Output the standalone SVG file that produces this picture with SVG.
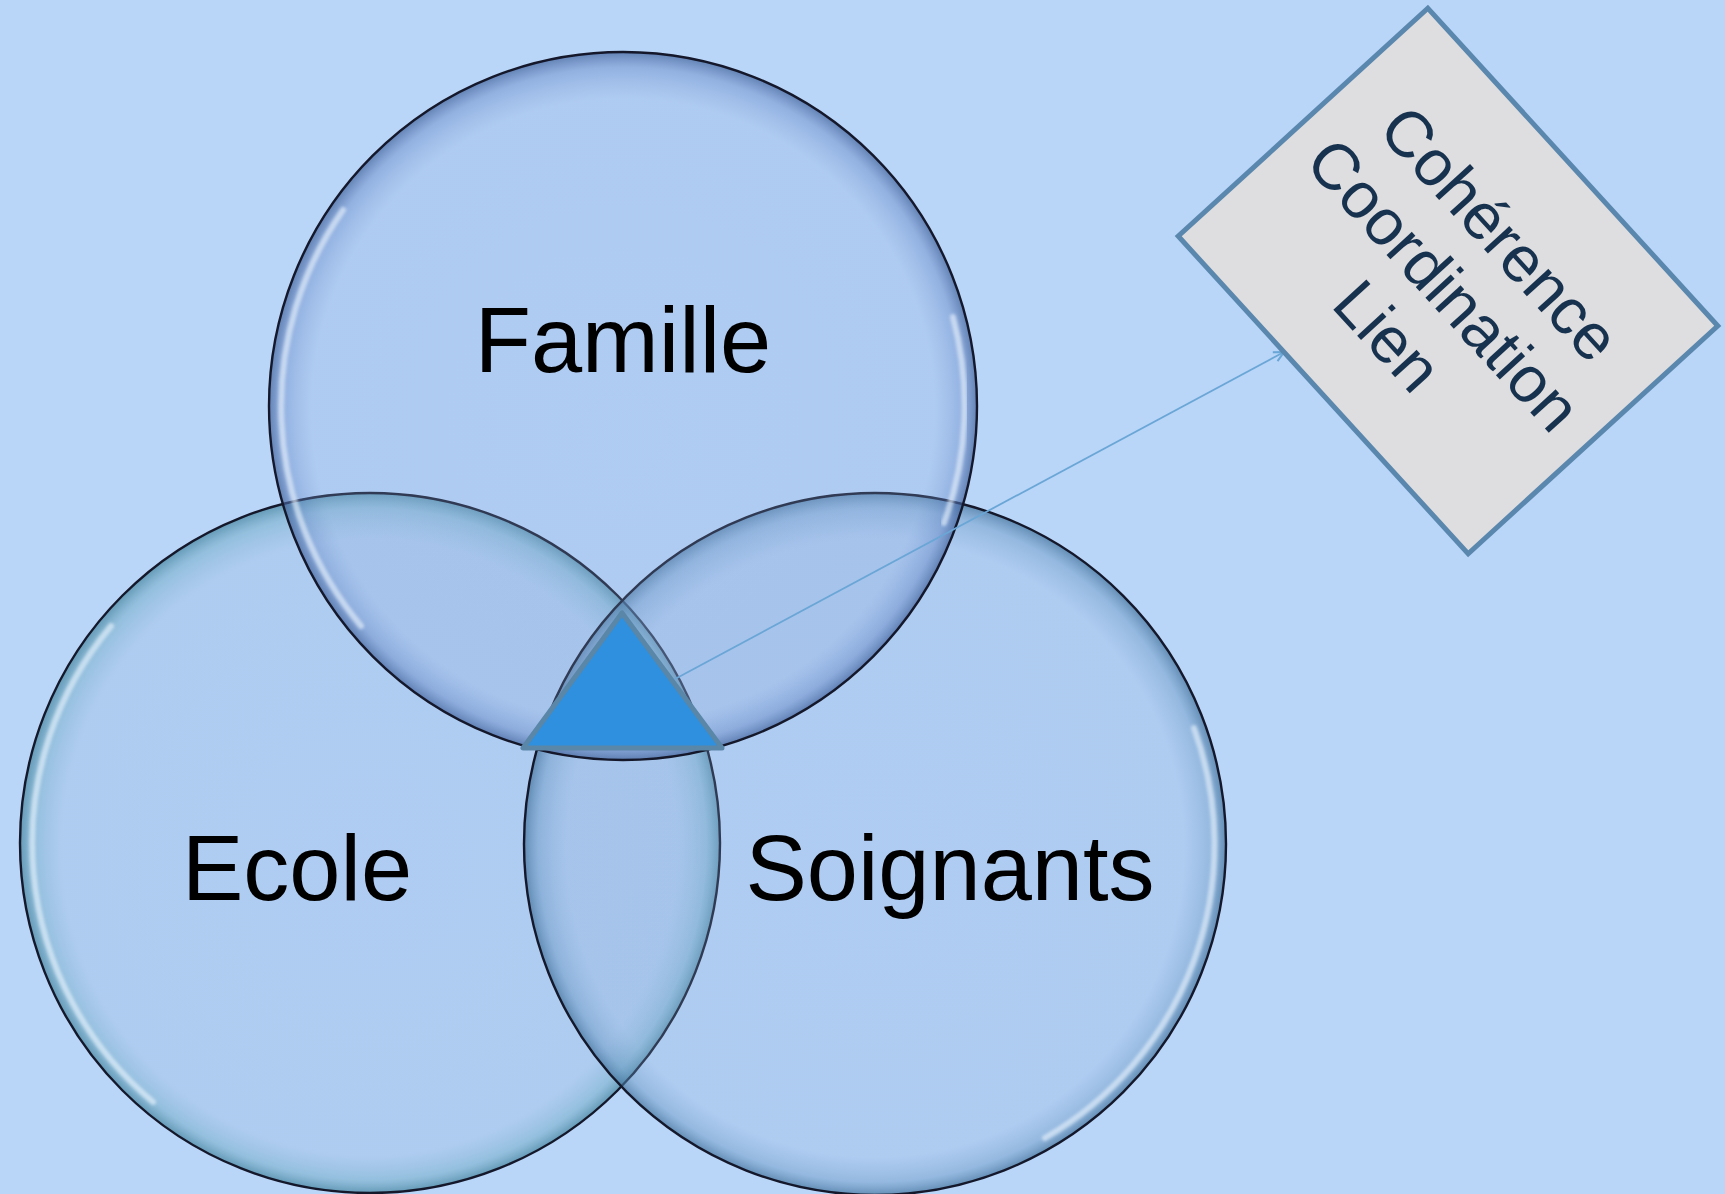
<svg xmlns="http://www.w3.org/2000/svg" width="1725" height="1194" viewBox="0 0 1725 1194">
<defs>
<style>
.lbl{font-family:"Liberation Sans",Arial,sans-serif;fill:#000;text-anchor:middle}
.box{font-family:"Liberation Sans",Arial,sans-serif;fill:#17324f;text-anchor:middle;font-size:65px}
.ring{fill:none;stroke:#14182a;stroke-width:2.4}
.hl{fill:none;stroke:#eef6ff;stroke-opacity:0.6;stroke-width:6;stroke-linecap:round;filter:url(#blur)}
</style>
<filter id="blur" x="-10%" y="-10%" width="120%" height="120%"><feGaussianBlur stdDeviation="1.8"/></filter>
<radialGradient id="gF" cx="0.5" cy="0.5" r="0.5" fx="0.5" fy="0.55">
<stop offset="0" stop-color="#8caadc" stop-opacity="0.22"/>
<stop offset="0.88" stop-color="#8caadc" stop-opacity="0.24"/>
<stop offset="0.96" stop-color="#5e80c0" stop-opacity="0.42"/>
<stop offset="1" stop-color="#3f5f98" stop-opacity="0.7"/>
</radialGradient>
<radialGradient id="gE" cx="0.5" cy="0.5" r="0.5" fx="0.5" fy="0.55">
<stop offset="0" stop-color="#8caadc" stop-opacity="0.22"/>
<stop offset="0.88" stop-color="#8cb0d8" stop-opacity="0.24"/>
<stop offset="0.96" stop-color="#5fa0b8" stop-opacity="0.42"/>
<stop offset="1" stop-color="#3f8098" stop-opacity="0.7"/>
</radialGradient>
<radialGradient id="gS" cx="0.5" cy="0.5" r="0.5" fx="0.5" fy="0.55">
<stop offset="0" stop-color="#8caadc" stop-opacity="0.22"/>
<stop offset="0.88" stop-color="#8cacd8" stop-opacity="0.24"/>
<stop offset="0.96" stop-color="#5f8fbc" stop-opacity="0.42"/>
<stop offset="1" stop-color="#3f6f98" stop-opacity="0.7"/>
</radialGradient>
<marker id="arr" viewBox="0 0 12 12" refX="11" refY="6" markerWidth="12" markerHeight="12" markerUnits="userSpaceOnUse" orient="auto">
<path d="M1,1 L11,6 L1,11" fill="none" stroke="#6aa6d6" stroke-width="2"/>
</marker>
</defs>
<rect width="1725" height="1194" fill="#b9d5f8"/>
<g id="ecole">
<circle cx="370" cy="843" r="350" fill="url(#gE)"/>
<path class="hl" d="M153,1102 A338,338 0 0 1 111,626"/>
<circle cx="370" cy="843" r="350" class="ring"/>
<text x="297" y="900" class="lbl" font-size="92">Ecole</text>
</g>
<g id="soignants">
<circle cx="875" cy="844" r="351" fill="url(#gS)"/>
<path class="hl" d="M1194,728 A339,339 0 0 1 1045,1138"/>
<circle cx="875" cy="844" r="351" class="ring"/>
<text x="950" y="900" class="lbl" font-size="92">Soignants</text>
</g>
<g id="famille">
<circle cx="623" cy="406" r="354" fill="url(#gF)"/>
<path class="hl" d="M361,626 A342,342 0 0 1 343,210"/>
<path class="hl" d="M953,317 A342,342 0 0 1 944,523"/>
<circle cx="623" cy="406" r="354" class="ring"/>
<text x="623" y="372" class="lbl" font-size="92">Famille</text>
</g>
<g id="centre">
<polygon points="622,613 523,748 722,748" fill="#2e90de" stroke="#5a86a8" stroke-width="5" stroke-linejoin="round"/>
</g>
<g id="connectors">
<line x1="675" y1="679" x2="1284" y2="352" stroke="#6aa6d6" stroke-width="1.8" marker-end="url(#arr)"/>
</g>
<g id="coherence" transform="translate(1448,281) rotate(47.6)">
<rect x="-215" y="-169" width="430" height="338" fill="#dedde0" stroke="#5a87ad" stroke-width="5"/>
<text class="box" x="0" y="-48">Cohérence</text>
<text class="box" x="0" y="28">Coordination</text>
<text class="box" x="0" y="104">Lien</text>
</g>
</svg>
